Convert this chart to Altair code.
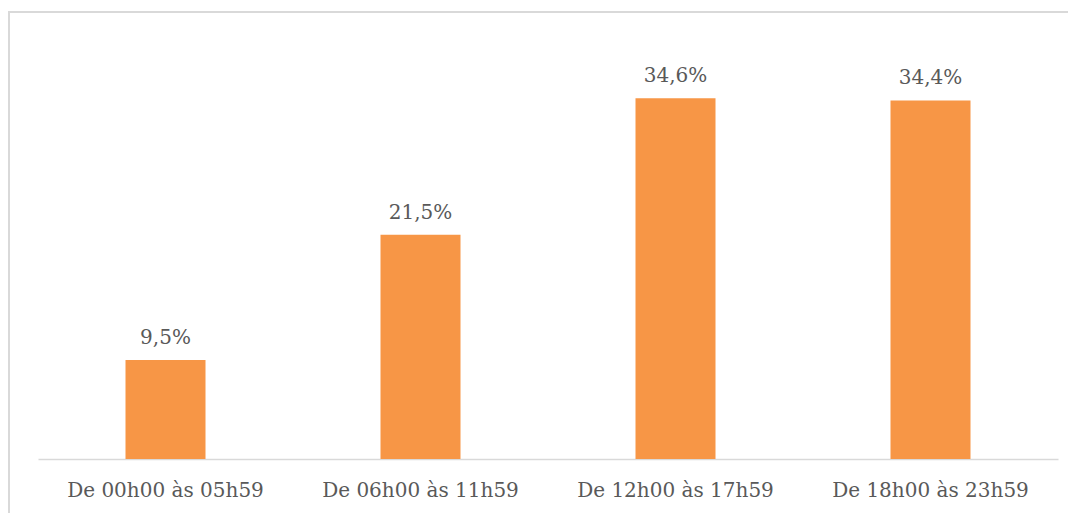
import altair as alt
import pandas as pd

categories = ["De 00h00 às 05h59", "De 06h00 às 11h59", "De 12h00 às 17h59", "De 18h00 às 23h59"]
values = [9.5, 21.5, 34.6, 34.4]

df = pd.DataFrame({
    "cat": categories,
    "val": values,
    "label": [f"{v:.1f}".replace(".", ",") + "%" for v in values],
})

FONT = "DejaVu Serif"
TXT = "#595959"

base = alt.Chart(df).encode(
    x=alt.X("cat:N", sort=categories, title=None,
            scale=alt.Scale(paddingInner=0.0, paddingOuter=0.0),
            axis=alt.Axis(labelAngle=0, labelFont=FONT, labelFontSize=20,
                          labelColor=TXT, ticks=False, domainColor="#D9D9D9",
                          domainWidth=1.5, labelPadding=21, labelLimit=400)),
    y=alt.Y("val:Q", scale=alt.Scale(domain=[0, 40]), axis=None),
)

bars = base.mark_bar(color="#F79646", size=80)
labels = base.mark_text(baseline="bottom", dy=-12, font=FONT, fontSize=20,
                        color=TXT).encode(text="label:N")

frame = alt.Chart(df).mark_rect(fill=None, stroke="#D9D9D9", strokeWidth=2,
                                clip=False).encode(
    x=alt.value(-29), x2=alt.value(1037), y=alt.value(-30), y2=alt.value(520)
)

chart = alt.layer(frame, bars, labels).properties(
    width=1020, height=417,
    autosize=alt.AutoSizeParams(type="none"),
    padding={"left": 30, "top": 34, "right": 10, "bottom": 60},
).configure_view(stroke=None)

chart.save("out.html", embed_options={"renderer": "svg", "actions": False})
